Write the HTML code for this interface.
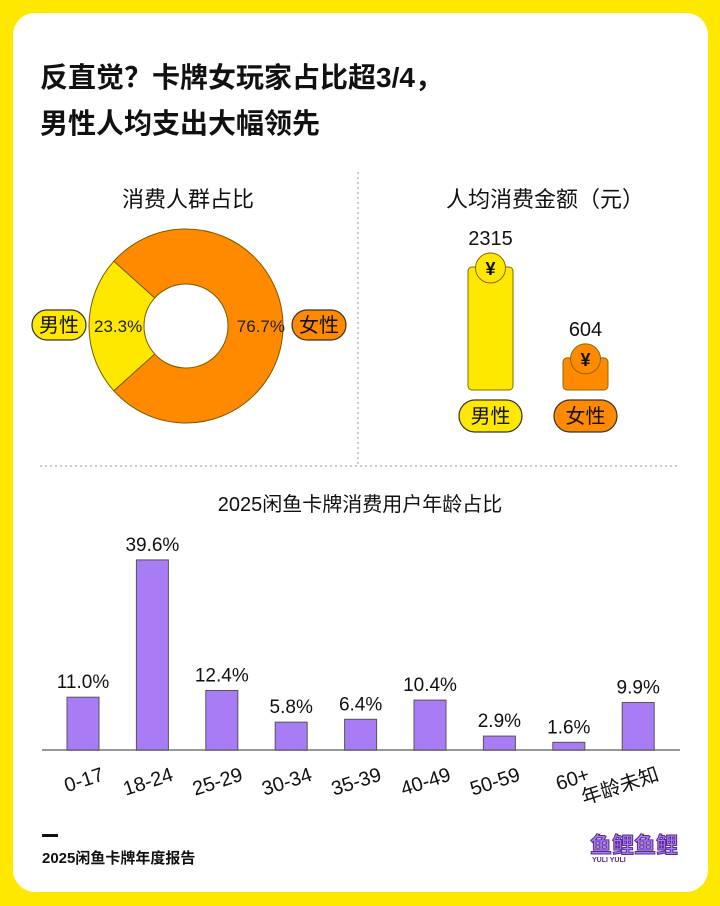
<!DOCTYPE html>
<html><head><meta charset="utf-8"><style>
body{margin:0;width:720px;height:906px;background:#FFE800;font-family:"Liberation Sans","Noto Sans CJK SC",sans-serif;overflow:hidden}
#card{position:absolute;left:13px;top:13px;width:695px;height:879px;background:#fff;border-radius:22px}
.t{position:absolute;color:#111}
</style></head><body>
<div id="card"></div>
<div class="t" style="left:40px;top:55px;font-size:28px;font-weight:bold;line-height:46px">反直觉？卡牌女玩家占比超3/4，<br>男性人均支出大幅领先</div>
<svg width="720" height="906" style="position:absolute;left:0;top:0" id="svg">
<line x1="358" y1="172" x2="358" y2="465" stroke="#999" stroke-dasharray="2,3"/>
<line x1="40" y1="466" x2="680" y2="466" stroke="#999" stroke-dasharray="2,3"/>
<text x="188" y="207" font-size="22" text-anchor="middle" fill="#111">消费人群占比</text>
<text x="545" y="207" font-size="22" text-anchor="middle" fill="#111">人均消费金额（元）</text>
<text x="360" y="511" font-size="20" text-anchor="middle" fill="#111">2025闲鱼卡牌消费用户年龄占比</text>
<g id="donut"></g><g id="spend"></g><g id="bars"></g>
<rect x="42" y="834" width="16" height="3" fill="#111"/>
<text x="42" y="863" font-size="15" font-weight="bold" fill="#111">2025闲鱼卡牌年度报告</text>
<g>
<text x="590" y="853" font-size="22" font-weight="bold" fill="#A77CF5" stroke="#5a2a8a" stroke-width="1">鱼鲤鱼鲤</text>
<text x="592" y="862" font-size="7" font-weight="bold" fill="#5a2a8a">YULI YULI</text></g>
</svg>
<script>
const genders=['男性','女性'];
const shares=[23.3,76.7];
const spend=[2315,604];
const ageCats=['0-17','18-24','25-29','30-34','35-39','40-49','50-59','60+','年龄未知'];
const ageVals=[11.0,39.6,12.4,5.8,6.4,10.4,2.9,1.6,9.9];
const NS='http://www.w3.org/2000/svg';
function mk(p,tag,a,txt){const e=document.createElementNS(NS,tag);for(const k in a)e.setAttribute(k,a[k]);if(txt!=null)e.textContent=txt;p.appendChild(e);return e;}
const cols=['#FFE800','#FF8A00'];
const dg=document.getElementById('donut');const cx=186,cy=326,R=97,r=42;
const maleDeg=shares[0]/100*360;let a0=180-maleDeg/2;
function pt(rad,deg){const t=deg*Math.PI/180;return [cx+rad*Math.cos(t),cy-rad*Math.sin(t)];}
shares.forEach((s,i)=>{const sweep=s/100*360;const a1=a0+sweep;
 const [x1,y1]=pt(R,a0),[x2,y2]=pt(R,a1),[x3,y3]=pt(r,a1),[x4,y4]=pt(r,a0);const lg=sweep>180?1:0;
 const p=mk(dg,'path',{d:`M${x1},${y1}A${R},${R} 0 ${lg} 0 ${x2},${y2}L${x3},${y3}A${r},${r} 0 ${lg} 1 ${x4},${y4}Z`,fill:cols[i],stroke:'#7a5a00','stroke-width':1});
 
 
 a0=a1;});
let t1=mk(dg,'text',{x:94,y:332,'font-size':17,fill:'#222'},shares[0].toFixed(1)+'%');

let t2=mk(dg,'text',{x:285,y:332,'font-size':17,fill:'#222','text-anchor':'end'},shares[1].toFixed(1)+'%');

function pill(g,x,y,w,h,c,txt,name){const gg=mk(g,'g',{});
 mk(gg,'rect',{x:x,y:y,width:w,height:h,rx:h/2,fill:c,stroke:'#333','stroke-width':1.2});
 mk(gg,'text',{x:x+w/2,y:y+h/2+7,'font-size':20,'text-anchor':'middle',fill:'#111'},txt);}
pill(dg,32,310,54,30,cols[0],genders[0],'male-pill');
pill(dg,292,310,54,30,cols[1],genders[1],'female-pill');
const sg=document.getElementById('spend');const base=390,sc=123/2315,sx=[468,563];
spend.forEach((v,i)=>{const h=v*sc,y=base-h;
 const b=mk(sg,'rect',{x:sx[i],y:y,width:45,height:h,rx:4,fill:cols[i],stroke:'#8a6a00','stroke-width':1});
 
 const c=mk(sg,'circle',{cx:sx[i]+22.5,cy:y+1,r:15,fill:cols[i],stroke:'#8a6a00','stroke-width':1});
 
 mk(sg,'text',{x:sx[i]+22.5,y:y+8,'font-size':18,'font-weight':'bold','text-anchor':'middle',fill:'#111'},'¥');
 const t=mk(sg,'text',{x:sx[i]+22.5,y:y-22,'font-size':20,'text-anchor':'middle',fill:'#111'},v);
 
 pill(sg,sx[i]-9,400,63,32,cols[i],genders[i],'spend-pill-'+(i?'female':'male'));});
const bg=document.getElementById('bars');const by=750,ph=4.8,x0=67,step=69.4,bw=32;
const ax=mk(bg,'line',{x1:42,y1:by,x2:680,y2:by,stroke:'#999','stroke-width':2});

ageVals.forEach((v,i)=>{const x=x0+i*step,h=v*ph;
 const b=mk(bg,'rect',{x:x,y:by-h,width:bw,height:h,fill:'#A77CF5',stroke:'#555','stroke-width':1});
 
 const t=mk(bg,'text',{x:x+bw/2,y:by-h-9,'font-size':19,'text-anchor':'middle',fill:'#111'},v.toFixed(1)+'%');
 
 const lx=x+bw/2+22,ly=by+30;
 const l=mk(bg,'text',{x:lx,y:ly,'font-size':20,'text-anchor':'end',fill:'#111',transform:`rotate(-18 ${lx} ${ly})`},ageCats[i]);
 });
</script>
</body></html>
